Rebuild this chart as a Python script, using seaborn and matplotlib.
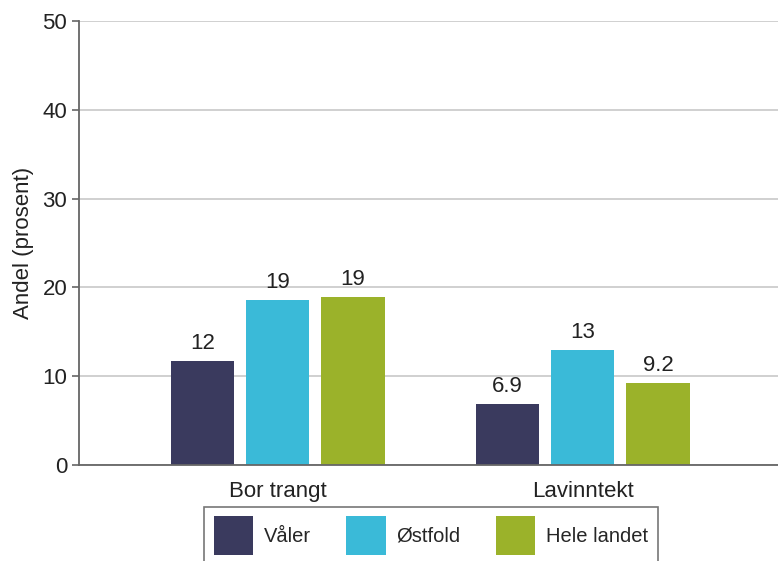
import matplotlib
matplotlib.use("Agg")
import matplotlib.pyplot as plt
import pandas as pd
import seaborn as sns

categories = ["Bor trangt", "Lavinntekt"]
regions = ["Våler", "Østfold", "Hele landet"]
valer = [11.7, 6.9]
ostfold = [18.6, 13.0]
hele_landet = [18.9, 9.2]
labels_valer = ["12", "6.9"]
labels_ostfold = ["19", "13"]
labels_hele = ["19", "9.2"]
colors = ["#3a3a5e", "#3abad8", "#9bb22a"]

df = pd.DataFrame(
    {
        "kategori": categories * 3,
        "region": [r for r in regions for _ in categories],
        "andel": valer + ostfold + hele_landet,
    }
)

sns.set_style("white")
plt.rcParams["font.family"] = ["Liberation Sans", "DejaVu Sans"]

fig = plt.figure(figsize=(7.78, 5.61), dpi=100)
ax = fig.add_axes([0.1015, 0.171, 0.8985, 0.7916])

sns.barplot(
    data=df,
    x="kategori",
    y="andel",
    hue="region",
    palette=colors,
    saturation=1,
    width=0.74,
    gap=0.16,
    linewidth=0,
    ax=ax,
    legend=False,
    zorder=2,
)

for cont, labs in zip(ax.containers, [labels_valer, labels_ostfold, labels_hele]):
    ax.bar_label(cont, labels=labs, padding=5, fontsize=16, color="#222222")

ax.set_ylim(0, 50)
ax.set_yticks([0, 10, 20, 30, 40, 50])
ax.set_xlim(-0.652, 1.64)
ax.yaxis.grid(True, color="#c8c8c8", linewidth=1.2, zorder=0)
ax.set_axisbelow(True)
ax.set_xlabel("")
ax.set_ylabel("Andel (prosent)", fontsize=16, color="#222222", labelpad=6)
ax.tick_params(axis="y", left=True, length=5, width=1.2, color="#666666",
               labelsize=16, labelcolor="#222222", pad=3.5)
ax.tick_params(axis="x", bottom=False, labelsize=16, labelcolor="#222222", pad=8)
for side in ["top", "right"]:
    ax.spines[side].set_visible(False)
for side in ["left", "bottom"]:
    ax.spines[side].set_color("#666666")
    ax.spines[side].set_linewidth(1.3)
    ax.spines[side].set_zorder(3)

handles = [plt.Rectangle((0, 0), 1, 1, facecolor=c, edgecolor="none") for c in colors]
leg = fig.legend(
    handles,
    regions,
    loc="upper center",
    bbox_to_anchor=(0.554, 0.0963),
    ncol=3,
    fontsize=14.5,
    frameon=True,
    fancybox=False,
    handlelength=1.95,
    handleheight=2.6,
    handletextpad=0.55,
    columnspacing=1.75,
    borderpad=0.45,
    borderaxespad=0,
)
leg.get_frame().set_edgecolor("#555555")
leg.get_frame().set_linewidth(1.2)

fig.savefig("out.png", dpi=100)
